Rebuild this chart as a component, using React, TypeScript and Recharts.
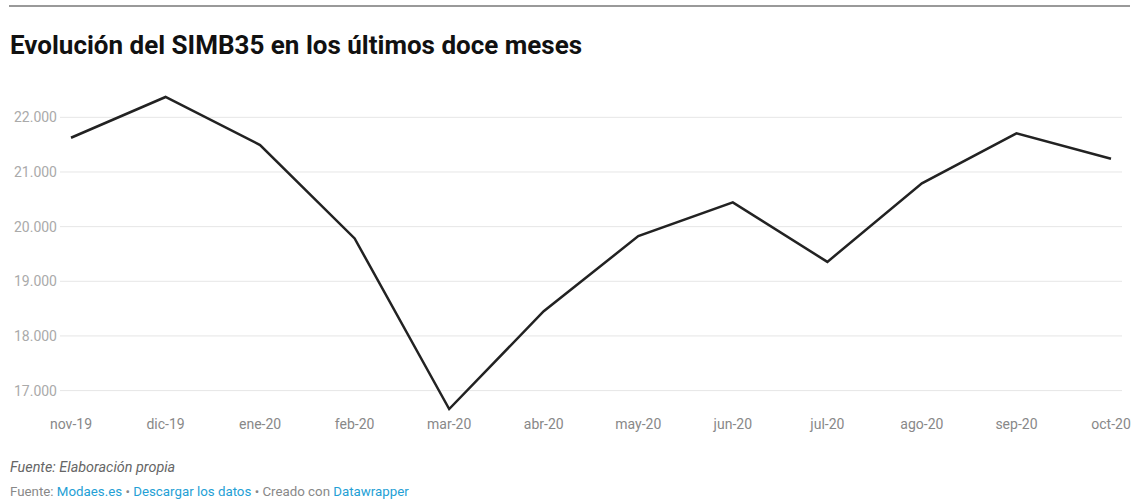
import React from "react";
import { LineChart, Line, XAxis, YAxis, ReferenceLine } from "recharts";

const months = ["nov-19", "dic-19", "ene-20", "feb-20", "mar-20", "abr-20", "may-20", "jun-20", "jul-20", "ago-20", "sep-20", "oct-20"];
const simb35 = [21626, 22372, 21493, 19784, 16663, 18452, 19826, 20443, 19355, 20791, 21707, 21242];
const yTicks = [17000, 18000, 19000, 20000, 21000, 22000];

const data = months.map((m, i) => ({ month: m, value: simb35[i] }));
const font = "Roboto, 'Noto Sans', sans-serif";
const fmt = (v: number) => v.toLocaleString("de-DE");

export default function App() {
  return (
    <div style={{ position: "absolute", left: 0, top: 0, width: 1137, height: 500, background: "#fff", fontFamily: font, overflow: "hidden" }}>
      <div style={{ position: "absolute", left: 9, top: 5, width: 1121, height: 2, background: "#999" }} />
      <div style={{ position: "absolute", left: 10, top: 31.5, fontSize: 26, lineHeight: 1, fontWeight: 700, color: "#111", whiteSpace: "nowrap" }}>
        Evolución del SIMB35 en los últimos doce meses
      </div>
      <div style={{ position: "absolute", left: 0, top: 0 }}>
        <LineChart width={1137} height={500} data={data} margin={{ top: 97, right: 15, bottom: 61, left: 0 }}>
          <XAxis
            dataKey="month"
            axisLine={false}
            tickLine={false}
            tickSize={0}
            tickMargin={10}
            height={30}
            padding={{ left: 11, right: 11 }}
            interval={0}
            tick={{ fill: "#888", fontSize: 14, fontFamily: font }}
          />
          <YAxis
            width={60}
            domain={[Math.min(...simb35), Math.max(...simb35)]}
            ticks={yTicks}
            axisLine={false}
            tickLine={false}
            tickSize={0}
            tickMargin={3}
            tickFormatter={fmt}
            tick={{ fill: "#aaa", fontSize: 14, fontFamily: font }}
          />
          {yTicks.map((t) => (
            <ReferenceLine key={t} y={t} stroke="#e6e6e6" strokeWidth={1} />
          ))}
          <Line type="linear" dataKey="value" stroke="#222" strokeWidth={2.5} dot={false} isAnimationActive={false} />
        </LineChart>
      </div>
      <div style={{ position: "absolute", left: 10, top: 461.4, fontSize: 14.4, lineHeight: 1, fontStyle: "italic", color: "#666", whiteSpace: "nowrap" }}>
        Fuente: Elaboración propia
      </div>
      <div style={{ position: "absolute", left: 10, top: 485, fontSize: 13.3, lineHeight: 1, color: "#888", whiteSpace: "nowrap" }}>
        Fuente: <span style={{ color: "#24a0d5" }}>Modaes.es</span> • <span style={{ color: "#24a0d5" }}>Descargar los datos</span> • Creado con <span style={{ color: "#24a0d5" }}>Datawrapper</span>
      </div>
    </div>
  );
}
